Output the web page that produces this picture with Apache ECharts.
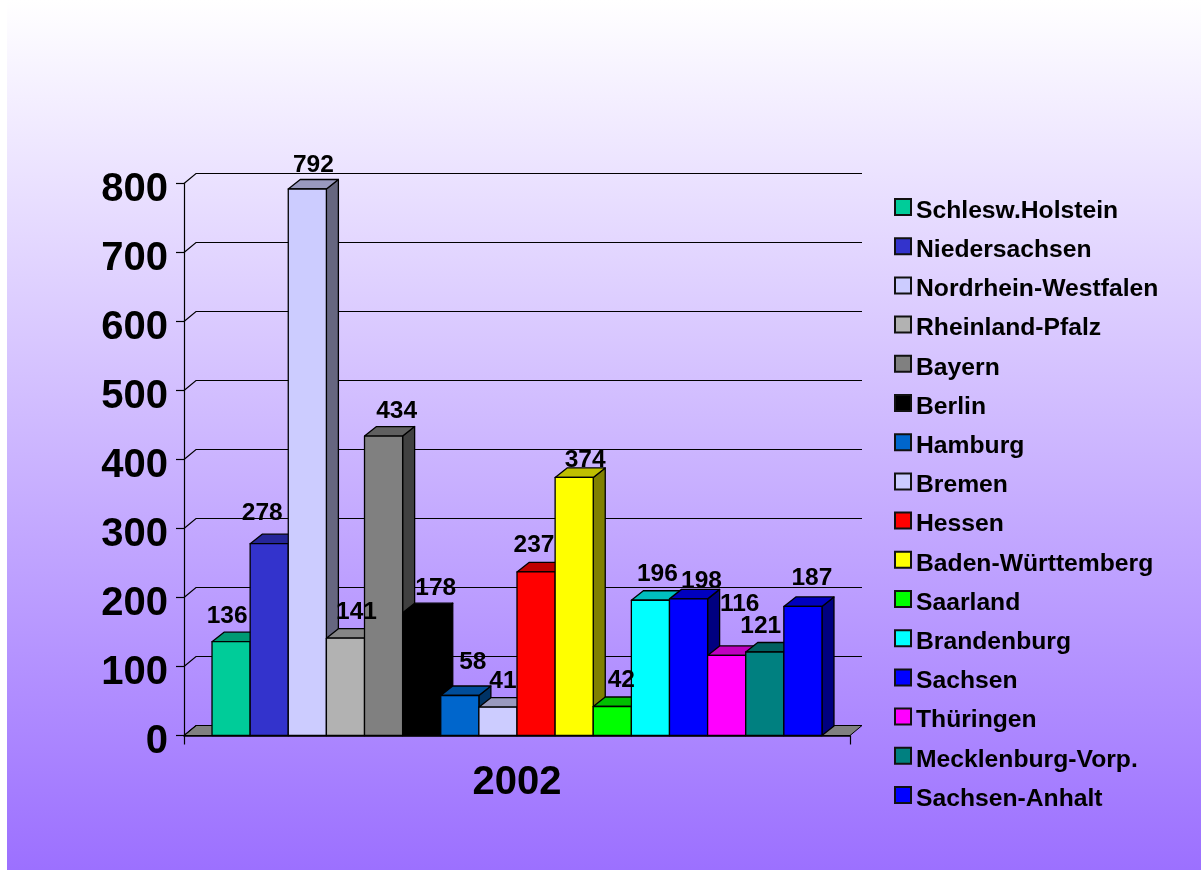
<!DOCTYPE html>
<html><head><meta charset="utf-8">
<style>html,body{margin:0;padding:0;background:#fff;overflow:hidden}#c{width:1201px;height:870px}</style>
<script src="https://cdn.jsdelivr.net/npm/echarts@6/dist/echarts.min.js"></script>
</head><body><div id="c"></div>
<script>
const categories = ['2002'];
const states = ['Schlesw.Holstein','Niedersachsen','Nordrhein-Westfalen','Rheinland-Pfalz','Bayern','Berlin','Hamburg','Bremen','Hessen','Baden-Württemberg','Saarland','Brandenburg','Sachsen','Thüringen','Mecklenburg-Vorp.','Sachsen-Anhalt'];
const values = [136,278,792,141,434,178,58,41,237,374,42,196,198,116,121,187];
const colors = ['#00CC99','#3333CC','#CCCCFF','#B2B2B2','#808080','#000000','#0066CC','#CCCCFF','#FF0000','#FFFF00','#00FF00','#00FFFF','#0000FF','#FF00FF','#008080','#0000FF'];
const yTicks = [0,100,200,300,400,500,600,700,800];
// label displacement from each bar's top centre
const labelDx = [-4,-7,6,11,13,14,13,5,-2,11,9,7,13,13,-4,9];
const labelDy = [-25,-30,-24,-26,-25,-24,-33,-26,-27,-17,-26,-26,-18,-51,-26,-28];

const DX = 12, DY = 9.5, WALL_DY = 10, GAP = 1.47;
const FONT = '"Liberation Sans",Arial,sans-serif';
function shade(hex,f){
  const n=parseInt(hex.slice(1),16);
  const c=[n>>16,(n>>8)&255,n&255].map(v=>Math.round(v*f));
  return 'rgb('+c.join(',')+')';
}
function barBox(params,api,i){
  const band=api.size([1,0])[0];
  const w=band/(states.length+GAP);
  const cx=api.coord([api.value(0),0])[0];
  const x=cx-w*states.length/2+i*w;
  return {x,w};
}
const stroke={stroke:'#000',lineWidth:1.3,lineJoin:'round'};
const barSeries = states.map((name,i)=>({
  type:'custom',name,coordinateSystem:'cartesian2d',z:10+i,
  itemStyle:{color:colors[i],borderColor:'#111',borderWidth:1},
  data:[[categories[0],values[i]]],
  encode:{x:0,y:1},
  renderItem(params,api){
    const {x,w}=barBox(params,api,i);
    const top=api.coord([api.value(0),api.value(1)])[1];
    const base=api.coord([api.value(0),0])[1];
    const c=colors[i];
    return {type:'group',children:[
      {type:'polygon',shape:{points:[[x+w,top],[x+w+DX,top-DY],[x+w+DX,base-DY],[x+w,base]]},style:{fill:shade(c,.5),...stroke}},
      {type:'polygon',shape:{points:[[x,top],[x+DX,top-DY],[x+w+DX,top-DY],[x+w,top]]},style:{fill:shade(c,.75),...stroke}},
      {type:'rect',shape:{x,y:top,width:w,height:base-top},style:{fill:c,...stroke}}
    ]};
  }
}));
const wallSeries = {
  type:'custom',name:'walls',z:3,silent:true,
  data:yTicks.map(t=>[categories[0],t]),encode:{x:0,y:1},
  renderItem(params,api){
    const cs=params.coordSys;
    const y=api.coord([api.value(0),api.value(1)])[1];
    const ln={stroke:'#000',lineWidth:1.2};
    const kids=[
      {type:'polyline',shape:{points:[[cs.x,y],[cs.x+DX,y-WALL_DY],[cs.x+cs.width+DX,y-WALL_DY]]},style:{fill:null,...ln}}
    ];
    if(api.value(1)===0){
      kids.unshift({type:'polygon',shape:{points:[[cs.x,y],[cs.x+DX,y-WALL_DY],[cs.x+cs.width+DX,y-WALL_DY],[cs.x+cs.width,y]]},style:{fill:'#808080',stroke:'#000',lineWidth:1}});
    }
    return {type:'group',children:kids};
  }
};
const labelSeries = {
  type:'custom',name:'labels',z:50,silent:true,
  data:values.map((v,i)=>[categories[0],v,i]),encode:{x:0,y:1},
  renderItem(params,api){
    const i=api.value(2);
    const {x,w}=barBox(params,api,i);
    const top=api.coord([api.value(0),api.value(1)])[1];
    return {type:'text',x:x+w/2+labelDx[i],y:top+labelDy[i],style:{text:String(api.value(1)),fill:'#000',
      font:'bold 24.5px '+FONT,textAlign:'center',textVerticalAlign:'middle'}};
  }
};
const chart=echarts.init(document.getElementById('c'),null,{renderer:'canvas'});
chart.setOption({
  animation:false,
  backgroundColor:'#fff',
  graphic:[{type:'rect',z:-10,silent:true,shape:{x:7,y:0,width:1194,height:870},
    style:{fill:new echarts.graphic.LinearGradient(0,0,0,1,[{offset:0,color:'#FFFFFF'},{offset:1,color:'#9C70FF'}])}}],
  grid:{left:184,top:183.5,width:666,height:552},
  xAxis:{type:'category',data:categories,
    axisLine:{show:true,lineStyle:{color:'#000',width:1.5}},
    axisTick:{show:true,length:9,lineStyle:{color:'#000',width:1.2}},
    axisLabel:{color:'#000',fontFamily:FONT,fontWeight:'bold',fontSize:40,margin:27},
    z:20},
  yAxis:{type:'value',min:0,max:800,interval:100,splitLine:{show:false},
    axisLine:{show:true,lineStyle:{color:'#000',width:1.2}},
    axisTick:{show:true,length:8,lineStyle:{color:'#000',width:1.2}},
    axisLabel:{color:'#000',fontFamily:FONT,fontWeight:'bold',fontSize:40,margin:16,verticalAlign:'top',lineHeight:12}},
  legend:{show:true,orient:'vertical',left:889,top:186,itemWidth:16,itemHeight:16,itemGap:6.7,
    icon:'rect',selectedMode:false,
    data:states,
    formatter:name=>'{t|'+name+'}',
    textStyle:{color:'#000',rich:{t:{color:'#000',fontFamily:FONT,fontWeight:'bold',fontSize:24.7,height:24,lineHeight:24,padding:[8,0,0,0]}}}},
  series:[wallSeries,...barSeries,labelSeries]
});
</script></body></html>
